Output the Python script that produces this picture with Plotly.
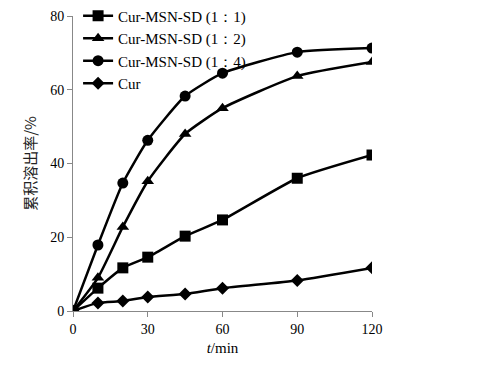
import plotly.graph_objects as go

time_min = [0, 10, 20, 30, 45, 60, 90, 120]
ratio_1_1 = [0, 6.2, 11.7, 14.6, 20.3, 24.7, 36.0, 42.3]
ratio_1_2 = [0, 9.0, 22.8, 35.2, 48.0, 55.0, 63.7, 67.5]
ratio_1_4 = [0, 17.9, 34.7, 46.3, 58.3, 64.5, 70.2, 71.3]
cur = [0, 2.2, 2.7, 3.8, 4.6, 6.2, 8.3, 11.7]

series = [
    ("Cur-MSN-SD (1\uff1a1)", ratio_1_1, "square"),
    ("Cur-MSN-SD (1\uff1a2)", ratio_1_2, "triangle-up"),
    ("Cur-MSN-SD (1\uff1a4)", ratio_1_4, "circle"),
    ("Cur", cur, "diamond"),
]

fig = go.Figure()
for name, vals, sym in series:
    fig.add_trace(go.Scatter(
        x=time_min, y=vals, name=name, mode="lines+markers",
        line=dict(color="black", width=2.5, shape="spline", smoothing=0.5),
        marker=dict(symbol=sym, size=11 if sym != "diamond" else 10, color="black"),
    ))

font_family = "Liberation Serif, Times New Roman, serif"
fig.update_layout(
    width=475, height=358,
    margin=dict(l=65, r=111, t=8, b=55, autoexpand=False),
    paper_bgcolor="white", plot_bgcolor="white",
    font=dict(family=font_family, size=14, color="black"),
    showlegend=True,
    legend=dict(x=0.017, y=1.056, xanchor="left", yanchor="top",
                bgcolor="rgba(0,0,0,0)", font=dict(size=15, family=font_family),
                itemwidth=30, tracegroupgap=0),
    xaxis=dict(range=[0, 120], tickvals=[0, 30, 60, 90, 120], automargin=False,
               showline=True, linecolor="#888", linewidth=1,
               ticks="outside", ticklen=5, tickcolor="#888",
               showgrid=False, zeroline=False,
               title=dict(text="<i>t</i>/min", font=dict(size=15), standoff=6)),
    yaxis=dict(range=[0, 80], tickvals=[0, 20, 40, 60, 80], automargin=False,
               showline=True, linecolor="#888", linewidth=1,
               ticks="outside", ticklen=5, tickcolor="#888",
               showgrid=False, zeroline=False,
               title=dict(text="累积溶出率/%",
                          font=dict(size=15, family="Noto Sans CJK SC", color="#222"),
                          standoff=9)),
)
fig.write_html("out.html")
